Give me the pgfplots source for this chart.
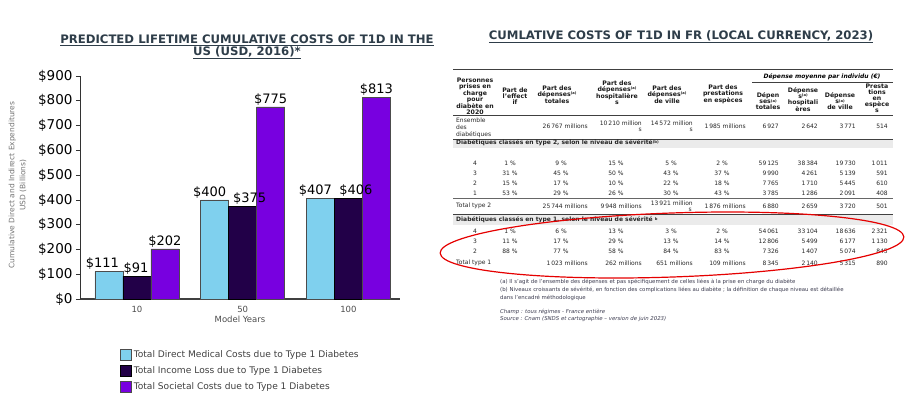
\documentclass[border=0pt]{standalone}
\usepackage{fontspec}
\setmainfont{DejaVu Sans}
\usepackage{pgfplots}
\usepackage{pgfplotstable}
\pgfplotsset{compat=1.18}
\pgfplotsset{sqlegend/.style={legend image code/.code={\draw[##1] (0pt,-5.5pt) rectangle (11pt,5.5pt);}}}
\definecolor{c1}{HTML}{7FD0EE}
\definecolor{c2}{HTML}{220048}
\definecolor{c3}{HTML}{7800E0}
\definecolor{ttl}{HTML}{2E3D49}
\definecolor{band}{HTML}{EBEBEB}
\definecolor{fn}{HTML}{3C3C50}
\newcommand{\fs}[1]{\fontsize{#1}{#1}\selectfont}
\newcommand{\supa}{\raisebox{1.4pt}{\fontsize{3.6}{3.6}\selectfont(a)}}
\newcommand{\supb}{\raisebox{1.7pt}{\fontsize{3.8}{3.8}\selectfont(b)}}
% x: model-year category (0=10, 1=50, 2=100); dx: label offset in pt
\pgfplotstableread{
x y dx
0 111 -6.5
1 400 -5
2 407 -5
}\direct
\pgfplotstableread{
x y dx
0 91 -1
1 375 7
2 406 7.5
}\income
\pgfplotstableread{
x y dx
0 202 0
1 775 0
2 813 0
}\societal
\begin{document}
\begin{tikzpicture}
\begin{scope}[x=1pt,y=-1pt]
\useasboundingbox (0,0) rectangle (908,397);
% titles
\node[font=\fs{11.7}\bfseries, text=ttl, inner sep=0pt] at (247,40) {\underline{PREDICTED LIFETIME CUMULATIVE COSTS OF T1D IN THE}};
\node[font=\fs{11.7}\bfseries, text=ttl, inner sep=0pt] at (247,53) {\underline{US (USD, 2016)*}};
\node[font=\fs{11.7}\bfseries, text=ttl, inner sep=0pt] at (681,37) {\underline{CUMLATIVE COSTS OF T1D IN FR (LOCAL CURRENCY, 2023)}};
% y label
\node[rotate=90, align=center, font=\fontsize{7.5}{11}\selectfont, text=black!55, inner sep=0pt] at (17.5,185) {Cumulative Direct and Indirect Expenditures\\USD (Billions)};
% table
\tikzset{hd/.style={font=\fontsize{6.2}{6}\selectfont\bfseries, align=center, inner sep=0pt, text=black!90},
         td/.style={font=\fs{6}, inner sep=0pt, text=black!85}}
\fill[band] (453,139) rectangle (893,147.5);
\fill[band] (453,214.5) rectangle (893,224.5);
\draw[line width=0.8pt, black!75] (453,69) -- (893,69);
\draw[line width=0.5pt, black!75] (752,82) -- (893,82);
\draw[line width=0.8pt, black!75] (453,115) -- (893,115);
\draw[line width=0.8pt, black!75] (453,139) -- (893,139);
\draw[line width=0.5pt, black!60] (453,198) -- (893,198);
\draw[line width=0.8pt, black!75] (453,214) -- (893,214);
\node[font=\fs{6}\bfseries\itshape, inner sep=0pt] at (822,76.5) {Dépense moyenne par individu (€)};
\node[hd] at (475,96) {Personnes\\prises en\\charge\\pour\\diabète en\\2020};
\node[hd] at (515,96) {Part de\\l'effect\\if};
\node[hd] at (557,94.5) {Part des\\dépenses\supa\\totales};
\node[hd] at (617,92.5) {Part des\\dépenses\supa\\hospitalière\\s};
\node[hd] at (667,94.5) {Part des\\dépenses\supa\\de ville};
\node[hd] at (723,94.5) {Part des\\prestations\\en espèces};
\node[hd] at (768,101.5) {Dépen\\ses\supa\\totales};
\node[hd] at (803,99.5) {Dépense\\s\supa\\hospitali\\ères};
\node[hd] at (840,101.5) {Dépense\\s\supa\\de ville};
\node[hd] at (877,98) {Presta\\tions\\en\\espèce\\s};
% ensemble row
\node[td, anchor=west, align=left, font=\fontsize{6}{7}\selectfont] at (456,127.5) {Ensemble\\des\\diabétiques};
\node[td, anchor=east] at (588,126) {26\,767 millions};
\node[td, anchor=east] at (642,123) {10\,210 million};
\node[td, anchor=east] at (642,129.5) {s};
\node[td, anchor=east] at (693,123) {14\,572 million};
\node[td, anchor=east] at (693,129.5) {s};
\node[td, anchor=east] at (746,126) {1\,985 millions};
\node[td, anchor=east] at (779,126) {6\,927};
\node[td, anchor=east] at (818,126) {2\,642};
\node[td, anchor=east] at (856,126) {3\,771};
\node[td, anchor=east] at (888,126) {514};
\node[td, anchor=west, font=\fs{6}\bfseries] at (456,143) {Diabétiques classés en type 2, selon le niveau de sévérité\supb};
\foreach \yy/\r/\pa/\pb/\pc/\pd/\pe/\da/\db/\dc/\dd in {
 163/4/1~\%/9~\%/15~\%/5~\%/2~\%/59\,125/38\,384/19\,730/1\,011,
 173/3/31~\%/45~\%/50~\%/43~\%/37~\%/9\,990/4\,261/5\,139/591,
 183/2/15~\%/17~\%/10~\%/22~\%/18~\%/7\,765/1\,710/5\,445/610,
 193/1/53~\%/29~\%/26~\%/30~\%/43~\%/3\,785/1\,286/2\,091/408,
 231/4/1~\%/6~\%/13~\%/3~\%/2~\%/54\,061/33\,104/18\,636/2\,321,
 241/3/11~\%/17~\%/29~\%/13~\%/14~\%/12\,806/5\,499/6\,177/1\,130,
 251/2/88~\%/77~\%/58~\%/84~\%/83~\%/7\,326/1\,407/5\,074/845}{
 \node[td] at (475,\yy) {\r};
 \node[td] at (510,\yy) {\pa};
 \node[td] at (561,\yy) {\pb};
 \node[td] at (616,\yy) {\pc};
 \node[td] at (671,\yy) {\pd};
 \node[td] at (722,\yy) {\pe};
 \node[td, anchor=east] at (779,\yy) {\da};
 \node[td, anchor=east] at (818,\yy) {\db};
 \node[td, anchor=east] at (856,\yy) {\dc};
 \node[td, anchor=east] at (888,\yy) {\dd};
}
\node[td, anchor=west] at (456,206) {Total type 2};
\node[td, anchor=east] at (588,206) {25\,744 millions};
\node[td, anchor=east] at (642,206) {9\,948 millions};
\node[td, anchor=east] at (693,203) {13\,921 million};
\node[td, anchor=east] at (692,209.5) {s};
\node[td, anchor=east] at (746,206) {1\,876 millions};
\node[td, anchor=east] at (779,206) {6\,880};
\node[td, anchor=east] at (818,206) {2\,659};
\node[td, anchor=east] at (856,206) {3\,720};
\node[td, anchor=east] at (888,206) {501};
\node[td, anchor=west, font=\fs{6}\bfseries] at (456,220) {Diabétiques classés en type 1, selon le niveau de sévérité \raisebox{1.7pt}{\fontsize{3.8}{3.8}\selectfont b}};
\node[td, anchor=west] at (456,263) {Total type 1};
\node[td, anchor=east] at (588,263) {1\,023 millions};
\node[td, anchor=east] at (642,263) {262 millions};
\node[td, anchor=east] at (693,263) {651 millions};
\node[td, anchor=east] at (746,263) {109 millions};
\node[td, anchor=east] at (779,263) {8\,345};
\node[td, anchor=east] at (818,263) {2\,140};
\node[td, anchor=east] at (856,263) {5\,315};
\node[td, anchor=east] at (888,263) {890};
% footnotes
\tikzset{fnn/.style={font=\fs{5.4}, text=fn, inner sep=0pt, anchor=west}}
\node[fnn] at (500,282) {(a) Il s'agit de l'ensemble des dépenses et pas spécifiquement de celles liées à la prise en charge du diabète};
\node[fnn] at (500,290) {(b) Niveaux croissants de sévérité, en fonction des complications liées au diabète ; la définition de chaque niveau est détaillée};
\node[fnn] at (500,297.5) {dans l'encadré méthodologique};
\node[fnn, font=\fs{5.4}\itshape] at (500,312) {Champ : tous régimes - France entière};
\node[fnn, font=\fs{5.4}\itshape] at (500,319.5) {Source : Cnam (SNDS et cartographie – version de juin 2023)};
\end{scope}
\begin{axis}[
  at={(80pt,-299pt)}, anchor=south west,
  scale only axis, width=320pt, height=223pt,
  ybar=0pt, bar width=28pt,
  xmin=-0.539, xmax=2.488, ymin=0, ymax=900,
  xtick={0,1,2}, xticklabels={10,50,100},
  ytick={0,100,...,900},
  yticklabel={\$\pgfmathprintnumber{\tick}},
  /pgf/number format/assume math mode=true,
  axis x line*=bottom, axis y line*=left,
  axis line style={-},
  x axis line style={line width=1.6pt, draw=black!75},
  y axis line style={line width=0.8pt, draw=black!80},
  tick align=outside, major tick length=4pt,
  ytick style={draw=black!80, line width=0.6pt},
  xtick style={draw=none},
  yticklabel style={font=\fs{13.5}, text=black},
  xticklabel style={font=\fs{8.5}, text=black!70},
  xlabel={Model Years},
  xlabel style={font=\fs{8.5}, text=black!70, yshift=4pt},
  nodes near coords={\$\pgfmathprintnumber{\pgfplotspointmeta}},
  visualization depends on={\thisrow{dx} \as \dxshift},
  every node near coord/.append style={font=\fs{13}, text=black, inner sep=1.5pt, xshift=\dxshift pt},
  legend style={at={(0.116,-0.212)}, anchor=north west, draw=none, fill=none,
    font=\fs{9.1}, text=black!75, row sep=3.4pt, legend cell align=left},
  clip=false,
]
\addplot[fill=c1, draw=black!70, line width=0.5pt, sqlegend] table[x=x, y=y] {\direct};
\addplot[fill=c2, draw=black, line width=0.5pt, sqlegend] table[x=x, y=y] {\income};
\addplot[fill=c3, draw=black!70, line width=0.5pt, sqlegend] table[x=x, y=y] {\societal};
\legend{Total Direct Medical Costs due to Type 1 Diabetes, Total Income Loss due to Type 1 Diabetes, Total Societal Costs due to Type 1 Diabetes}
\end{axis}
\begin{scope}[x=1pt,y=-1pt]
\draw[red!90!black, line width=1.2pt, rotate around={2:(672,245)}] (672,245) ellipse [x radius=232, y radius=32];
\end{scope}
\end{tikzpicture}
\end{document}
